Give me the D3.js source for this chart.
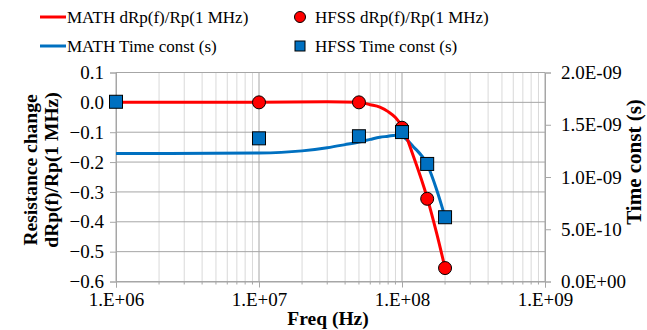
<!DOCTYPE html>
<html>
<head>
<meta charset="utf-8">
<script src="https://cdn.jsdelivr.net/npm/d3@7"></script>
<style>
  body { margin: 0; background: #fff; }
  svg text { font-family: "Liberation Serif", "Times New Roman", serif !important; fill: #000; }
</style>
</head>
<body>
<svg id="chart" width="647" height="330"></svg>
<script>
// data
const mathFreq   = [1e6, 1e7, 3e7, 5e7, 6e7, 7e7, 8e7, 9e7, 1e8, 1.2e8, 1.5e8, 1.75e8, 2e8];
const mathDR     = [0, 0, 0.002, 0.0, -0.008, -0.016, -0.031, -0.051, -0.081, -0.18, -0.32, -0.44, -0.555];
const tauFreq    = [1e6, 1e7, 2e7, 3e7, 4e7, 5e7, 6e7, 7e7, 8e7, 9e7, 1e8, 1.2e8, 1.5e8, 1.75e8, 2e8];
const mathTau    = [1.225e-9, 1.23e-9, 1.25e-9, 1.28e-9, 1.31e-9, 1.335e-9, 1.36e-9, 1.38e-9, 1.39e-9, 1.40e-9, 1.39e-9, 1.29e-9, 1.12e-9, 0.875e-9, 0.615e-9];
const hfssDRFreq = [1e7, 5e7, 1e8, 1.5e8, 2e8];
const hfssDR     = [0.0, 0.0, -0.085, -0.323, -0.555];
const hfssTauFreq = [1e6, 1e7, 5e7, 1e8, 1.5e8, 2e8];
const hfssTau    = [1.72e-9, 1.37e-9, 1.39e-9, 1.43e-9, 1.125e-9, 0.615e-9];
const xTicks = [1e6, 1e7, 1e8, 1e9];
const yLeftTicks = [0.1, 0.0, -0.1, -0.2, -0.3, -0.4, -0.5, -0.6];
const yRightTicks = [0, 5e-10, 1e-9, 1.5e-9, 2e-9];

const margin = { left: 116, right: 545, top: 72.5, bottom: 281.5 };
const svg = d3.select("#chart");

const x = d3.scaleLog().domain([1e6, 1e9]).range([margin.left, margin.right]);
const yL = d3.scaleLinear().domain([-0.6, 0.1]).range([margin.bottom, margin.top]);
const yR = d3.scaleLinear().domain([0, 2e-9]).range([margin.bottom, margin.top]);

// minor x values (2..9 in each decade)
let minor = [];
for (let d = 1e6; d < 1e9; d *= 10) {
  for (let k = 2; k <= 9; k++) minor.push(d * k);
}

const grid = svg.append("g");
grid.selectAll(".vmin").data(minor).enter().append("line")
  .attr("x1", d => x(d)).attr("x2", d => x(d))
  .attr("y1", margin.top).attr("y2", margin.bottom)
  .attr("stroke", "#d9d9d9").attr("stroke-width", 1);
grid.selectAll(".hmaj").data(yLeftTicks).enter().append("line")
  .attr("x1", margin.left).attr("x2", margin.right)
  .attr("y1", d => yL(d)).attr("y2", d => yL(d))
  .attr("stroke", "#a6a6a6").attr("stroke-width", 1);
grid.selectAll(".vmaj").data(xTicks).enter().append("line")
  .attr("x1", d => x(d)).attr("x2", d => x(d))
  .attr("y1", margin.top).attr("y2", margin.bottom)
  .attr("stroke", "#a6a6a6").attr("stroke-width", 1);

// E-notation like 2.0E-09
const sciFmt = d => {
  const s = d3.format(".1e")(d);
  const [m, e] = s.split("e");
  const n = +e;
  return m + "E" + (n < 0 ? "-" : "+") + String(Math.abs(n)).padStart(2, "0");
};

const fontTick = "19px";
const axL = svg.append("g").attr("transform", `translate(${margin.left},0)`)
  .call(d3.axisLeft(yL).tickValues(yLeftTicks).tickSize(6).tickPadding(6).tickFormat(d3.format(".1f")));
const axR = svg.append("g").attr("transform", `translate(${margin.right},0)`)
  .call(d3.axisRight(yR).tickValues(yRightTicks).tickSize(6).tickPadding(10).tickFormat(sciFmt));
const axB = svg.append("g").attr("transform", `translate(0,${margin.bottom})`)
  .call(d3.axisBottom(x).tickValues(xTicks).tickSize(6).tickPadding(5)
    .tickFormat(d => "1.E+0" + Math.round(Math.log10(d))));
svg.append("g").attr("transform", `translate(0,${margin.bottom})`)
  .selectAll("line").data(minor).enter().append("line")
  .attr("x1", d => x(d)).attr("x2", d => x(d)).attr("y1", 0).attr("y2", 3)
  .attr("stroke", "#a6a6a6");

[axL, axR, axB].forEach(a => {
  a.attr("font-family", null).attr("font-size", null);
  a.selectAll("path").attr("stroke", "#a6a6a6");
  a.selectAll("line").attr("stroke", "#a6a6a6");
  a.selectAll("text").style("font-size", fontTick);
});

// lines
const lineDR = d3.line().x(d => x(d[0])).y(d => yL(d[1])).curve(d3.curveMonotoneX);
const lineTau = d3.line().x(d => x(d[0])).y(d => yR(d[1])).curve(d3.curveMonotoneX);

svg.append("path").datum(d3.zip(tauFreq, mathTau)).attr("d", lineTau)
  .attr("fill", "none").attr("stroke", "#0070c0").attr("stroke-width", 3);
svg.append("path").datum(d3.zip(mathFreq, mathDR)).attr("d", lineDR)
  .attr("fill", "none").attr("stroke", "#ff0000").attr("stroke-width", 3);

svg.selectAll(".dot").data(d3.zip(hfssDRFreq, hfssDR)).enter().append("circle")
  .attr("cx", d => x(d[0])).attr("cy", d => yL(d[1])).attr("r", 6.5)
  .attr("fill", "#ff0000").attr("stroke", "#000").attr("stroke-width", 1);
const sq = 13;
svg.selectAll(".sq").data(d3.zip(hfssTauFreq, hfssTau)).enter().append("rect")
  .attr("x", d => x(d[0]) - sq / 2).attr("y", d => yR(d[1]) - sq / 2)
  .attr("width", sq).attr("height", sq)
  .attr("fill", "#0070c0").attr("stroke", "#000").attr("stroke-width", 1);

// axis titles
const fontTitle = "19.5px";
svg.append("text").attr("transform", "translate(37,170) rotate(-90)")
  .attr("text-anchor", "middle").style("font-weight", "bold").style("font-size", fontTitle)
  .text("Resistance change");
svg.append("text").attr("transform", "translate(58,170) rotate(-90)")
  .attr("text-anchor", "middle").style("font-weight", "bold").style("font-size", fontTitle)
  .text("dRp(f)/Rp(1 MHz)");
svg.append("text").attr("transform", "translate(641,162) rotate(-90)")
  .attr("text-anchor", "middle").style("font-weight", "bold").style("font-size", "21px")
  .text("Time const (s)");
svg.append("text").attr("x", 328).attr("y", 325)
  .attr("text-anchor", "middle").style("font-weight", "bold").style("font-size", fontTitle)
  .text("Freq (Hz)");

// legend
const lg = svg.append("g");
const legendItems = [
  { kind: "line", color: "#ff0000", label: "MATH dRp(f)/Rp(1 MHz)", lx: 40, ly: 17 },
  { kind: "line", color: "#0070c0", label: "MATH Time const (s)", lx: 40, ly: 46 },
  { kind: "circle", color: "#ff0000", label: "HFSS dRp(f)/Rp(1 MHz)", lx: 300, ly: 17 },
  { kind: "rect", color: "#0070c0", label: "HFSS Time const (s)", lx: 300, ly: 46 }
];
legendItems.forEach(it => {
  if (it.kind === "line") {
    lg.append("line").attr("x1", it.lx).attr("x2", it.lx + 26).attr("y1", it.ly).attr("y2", it.ly)
      .attr("stroke", it.color).attr("stroke-width", 3);
    lg.append("text").attr("x", it.lx + 27).attr("y", it.ly + 6).style("font-size", "17px").text(it.label);
  } else {
    if (it.kind === "circle") {
      lg.append("circle").attr("cx", it.lx).attr("cy", it.ly).attr("r", 5.5)
        .attr("fill", it.color).attr("stroke", "#000");
    } else {
      lg.append("rect").attr("x", it.lx - 5).attr("y", it.ly - 5).attr("width", 10).attr("height", 10)
        .attr("fill", it.color).attr("stroke", "#000");
    }
    lg.append("text").attr("x", it.lx + 15).attr("y", it.ly + 6).style("font-size", "17px").text(it.label);
  }
});
</script>
</body>
</html>
